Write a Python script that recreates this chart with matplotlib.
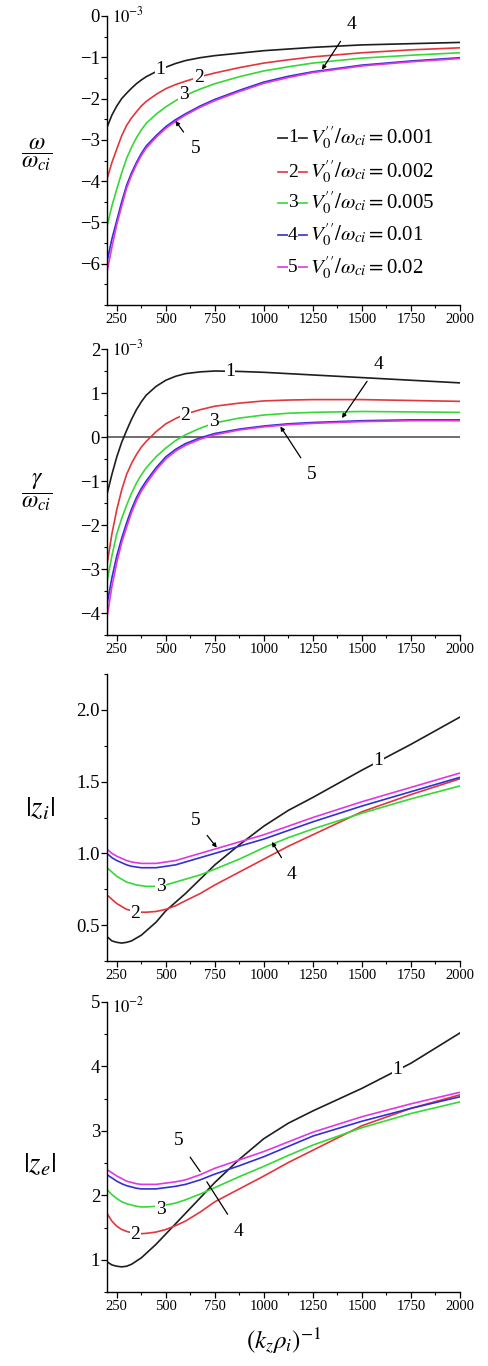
import matplotlib.pyplot as plt
from matplotlib.ticker import MultipleLocator

plt.rcParams['font.family'] = ['Liberation Serif', 'DejaVu Serif']
plt.rcParams['mathtext.fontset'] = 'stix'

# (k_z rho_i)^-1
k = [200, 225, 250, 275, 300, 325, 350, 375, 400, 450, 500, 550, 600, 675, 750, 875,
     1000, 1125, 1250, 1500, 1750, 2000]

shear = ['0.001', '0.002', '0.005', '0.01', '0.02']
colors = ['#1e1e1e', '#e2363c', '#35d835', '#3030d4', '#e236e2']

# omega / omega_ci, units of 1e-3
omega_1 = [-2.7, -2.4, -2.18, -2.0, -1.87, -1.75, -1.64, -1.55, -1.47, -1.35, -1.24, -1.15,
           -1.08, -1.01, -0.96, -0.9, -0.84, -0.8, -0.76, -0.70, -0.67, -0.64]
omega_2 = [-3.95, -3.55, -3.22, -2.9, -2.65, -2.47, -2.32, -2.18, -2.07, -1.9, -1.76, -1.66,
           -1.58, -1.47, -1.38, -1.25, -1.14, -1.06, -0.99, -0.89, -0.82, -0.77]
omega_3 = [-5.1, -4.6, -4.19, -3.8, -3.45, -3.18, -2.95, -2.76, -2.6, -2.38, -2.2, -2.05,
           -1.92, -1.77, -1.64, -1.47, -1.33, -1.23, -1.14, -1.02, -0.95, -0.89]
omega_4 = [-5.95, -5.4, -4.95, -4.5, -4.1, -3.8, -3.55, -3.33, -3.15, -2.9, -2.68, -2.51,
           -2.37, -2.18, -2.02, -1.8, -1.6, -1.46, -1.35, -1.19, -1.09, -1.01]
omega_5 = [-6.2, -5.6, -5.05, -4.6, -4.17, -3.86, -3.6, -3.38, -3.2, -2.94, -2.72, -2.55,
           -2.4, -2.21, -2.05, -1.83, -1.63, -1.49, -1.37, -1.21, -1.11, -1.03]

# gamma / omega_ci, units of 1e-3
gamma_1 = [-1.3, -0.85, -0.45, -0.12, 0.15, 0.4, 0.62, 0.8, 0.95, 1.15, 1.29, 1.38,
           1.44, 1.48, 1.5, 1.49, 1.47, 1.44, 1.41, 1.35, 1.29, 1.23]
gamma_2 = [-2.9, -2.2, -1.65, -1.2, -0.85, -0.6, -0.4, -0.23, -0.1, 0.12, 0.3, 0.42,
           0.52, 0.62, 0.7, 0.77, 0.82, 0.84, 0.85, 0.85, 0.83, 0.81]
gamma_3 = [-3.3, -2.7, -2.2, -1.85, -1.55, -1.28, -1.05, -0.86, -0.7, -0.45, -0.25, -0.08,
           0.05, 0.2, 0.32, 0.43, 0.5, 0.54, 0.56, 0.58, 0.57, 0.56]
gamma_4 = [-3.8, -3.2, -2.7, -2.3, -1.95, -1.64, -1.38, -1.17, -1.0, -0.7, -0.45, -0.28,
           -0.15, -0.02, 0.08, 0.18, 0.25, 0.3, 0.33, 0.37, 0.39, 0.39]
gamma_5 = [-4.1, -3.4, -2.85, -2.4, -2.05, -1.72, -1.45, -1.23, -1.06, -0.75, -0.5, -0.32,
           -0.19, -0.05, 0.05, 0.16, 0.23, 0.28, 0.31, 0.35, 0.37, 0.37]

# |z_i|
zi_1 = [0.42, 0.39, 0.38, 0.375, 0.38, 0.39, 0.41, 0.43, 0.46, 0.52, 0.6, 0.66,
        0.72, 0.82, 0.92, 1.06, 1.19, 1.3, 1.39, 1.58, 1.76, 1.95]
zi_2 = [0.71, 0.68, 0.65, 0.63, 0.61, 0.6, 0.595, 0.59, 0.59, 0.595, 0.61, 0.635,
        0.67, 0.72, 0.78, 0.87, 0.96, 1.05, 1.13, 1.29, 1.41, 1.52]
zi_3 = [0.9, 0.87, 0.84, 0.82, 0.8, 0.79, 0.78, 0.775, 0.77, 0.77, 0.78, 0.8,
        0.82, 0.85, 0.89, 0.96, 1.04, 1.11, 1.17, 1.28, 1.38, 1.47]
zi_4 = [1.0, 0.97, 0.95, 0.935, 0.92, 0.91, 0.905, 0.9, 0.9, 0.9, 0.91, 0.92,
        0.94, 0.97, 1.0, 1.05, 1.1, 1.16, 1.22, 1.33, 1.43, 1.53]
zi_5 = [1.03, 1.0, 0.98, 0.965, 0.95, 0.94, 0.935, 0.93, 0.93, 0.93, 0.94, 0.95,
        0.97, 1.0, 1.03, 1.08, 1.13, 1.19, 1.25, 1.36, 1.46, 1.56]

# |z_e|, units of 1e-2
ze_1 = [0.97, 0.92, 0.9, 0.89, 0.9, 0.93, 0.98, 1.03, 1.1, 1.24, 1.4, 1.56,
        1.72, 1.96, 2.2, 2.56, 2.88, 3.12, 3.31, 3.66, 4.05, 4.52]
ze_2 = [1.72, 1.6, 1.52, 1.47, 1.44, 1.42, 1.41, 1.405, 1.41, 1.43, 1.47, 1.53,
        1.6, 1.74, 1.9, 2.1, 2.3, 2.51, 2.7, 3.08, 3.35, 3.56]
ze_3 = [2.09, 2.01, 1.95, 1.9, 1.87, 1.85, 1.83, 1.82, 1.82, 1.83, 1.85, 1.88,
        1.93, 2.02, 2.12, 2.29, 2.45, 2.62, 2.78, 3.05, 3.27, 3.45]
ze_4 = [2.32, 2.27, 2.22, 2.18, 2.15, 2.13, 2.11, 2.1, 2.1, 2.1, 2.12, 2.14,
        2.17, 2.24, 2.33, 2.46, 2.6, 2.76, 2.92, 3.15, 3.35, 3.53]
ze_5 = [2.4, 2.35, 2.3, 2.26, 2.22, 2.2, 2.18, 2.17, 2.17, 2.17, 2.19, 2.21,
        2.24, 2.32, 2.42, 2.55, 2.68, 2.83, 2.98, 3.22, 3.42, 3.6]

W, H = 489, 1366
fig = plt.figure(figsize=(W / 100, H / 100), dpi=100)


def make_axes(top, bottom, left=107, right=460):
    return fig.add_axes([left / W, 1 - bottom / H, (right - left) / W, (bottom - top) / H])


def style(ax, ylim, major, minor):
    ax.set_xlim(200, 2000)
    ax.set_ylim(*ylim)
    ax.spines['top'].set_visible(False)
    ax.spines['right'].set_visible(False)
    ax.xaxis.set_major_locator(MultipleLocator(250))
    ax.xaxis.set_minor_locator(MultipleLocator(125))
    ax.yaxis.set_major_locator(MultipleLocator(major))
    ax.yaxis.set_minor_locator(MultipleLocator(minor))
    ax.tick_params(which='major', length=4, width=0.9, direction='out')
    ax.tick_params(which='minor', length=2, width=0.8, direction='out')
    ax.tick_params(axis='x', labelsize=10.5, pad=2)
    ax.tick_params(axis='y', labelsize=13.5, pad=1)
    for s in ax.spines.values():
        s.set_linewidth(1.0)


def tag(ax, s, x, y):
    ax.text(x, y, s, fontsize=14, ha='center', va='center', zorder=5,
            bbox=dict(fc='white', ec='none', pad=0.3))


def pointer(ax, s, xy, xytext, head=True):
    ax.annotate(s, xy=xy, xytext=xytext, fontsize=14, ha='center', va='center',
                arrowprops=dict(arrowstyle='-|>' if head else '-', color='black',
                                lw=0.9, mutation_scale=6, shrinkA=5, shrinkB=0))


def draw(ax, series):
    for ys, c in zip(series, colors):
        ax.plot(k, ys, color=c, lw=1.2)


# panel 1: omega
ax1 = make_axes(16, 305)
draw(ax1, [omega_1, omega_2, omega_3, omega_4, omega_5])
style(ax1, (-7, 0), 1, 0.5)
ax1.set_yticks([0, -1, -2, -3, -4, -5, -6])
ax1.set_yticklabels(['0', '−1', '−2', '−3', '−4', '−5', '−6'])
ax1.text(0.015, 1.0, r'$10^{-3}$', transform=ax1.transAxes, fontsize=12, va='center')
ax1.text(-0.2, 0.52, r'$\dfrac{\omega}{\omega_{ci}}$', transform=ax1.transAxes,
         fontsize=17, ha='center', va='center')
tag(ax1, '1', 473, -1.3)
tag(ax1, '2', 667, -1.5)
tag(ax1, '3', 590, -1.9)
pointer(ax1, '4', (1296, -1.3), (1448, -0.2))
pointer(ax1, '5', (549, -2.54), (650, -3.2))
rows = [0.578, 0.460, 0.353, 0.242, 0.131]
for i, (y, c, v) in enumerate(zip(rows, colors, shear)):
    ax1.plot([0.485, 0.566], [y, y], color=c, lw=1.2, transform=ax1.transAxes)
    ax1.text(0.526, y, str(i + 1), transform=ax1.transAxes, fontsize=14, ha='center',
             va='center', bbox=dict(fc='white', ec='none', pad=0.2))
    ax1.text(0.575, y, r"$V_0^{\prime\prime}/\omega_{ci}=$" + v, transform=ax1.transAxes,
             fontsize=15, va='center')

# panel 2: gamma
ax2 = make_axes(349, 635)
ax2.axhline(0, color='#555555', lw=1.2)
draw(ax2, [gamma_1, gamma_2, gamma_3, gamma_4, gamma_5])
style(ax2, (-4.5, 2), 1, 0.5)
ax2.set_yticks([2, 1, 0, -1, -2, -3, -4])
ax2.set_yticklabels(['2', '1', '0', '−1', '−2', '−3', '−4'])
ax2.text(0.015, 1.0, r'$10^{-3}$', transform=ax2.transAxes, fontsize=12, va='center')
ax2.text(-0.2, 0.5, r'$\dfrac{\gamma}{\omega_{ci}}$', transform=ax2.transAxes,
         fontsize=17, ha='center', va='center')
tag(ax2, '1', 828, 1.48)
tag(ax2, '2', 599, 0.5)
tag(ax2, '3', 743, 0.35)
pointer(ax2, '4', (1398, 0.43), (1585, 1.65))
pointer(ax2, '5', (1084, 0.24), (1245, -0.86))

# panel 3: |z_i|
ax3 = make_axes(674, 961)
draw(ax3, [zi_1, zi_2, zi_3, zi_4, zi_5])
style(ax3, (0.25, 2.25), 0.5, 0.25)
ax3.set_yticks([0.5, 1.0, 1.5, 2.0])
ax3.set_yticklabels(['0.5', '1.0', '1.5', '2.0'])
ax3.text(-0.19, 0.53, r'$|z_i|$', transform=ax3.transAxes,
         fontsize=21, ha='center', va='center')
tag(ax3, '1', 1585, 1.65)
tag(ax3, '2', 344, 0.58)
tag(ax3, '3', 474, 0.77)
pointer(ax3, '4', (1041, 1.08), (1143, 0.85))
pointer(ax3, '5', (760, 1.04), (650, 1.23))

# panel 4: |z_e|
ax4 = make_axes(1002, 1292)
draw(ax4, [ze_1, ze_2, ze_3, ze_4, ze_5])
style(ax4, (0.5, 5), 1, 0.5)
ax4.set_yticks([1, 2, 3, 4, 5])
ax4.text(0.015, 0.985, r'$10^{-2}$', transform=ax4.transAxes, fontsize=12, va='center')
ax4.text(-0.19, 0.44, r'$|z_e|$', transform=ax4.transAxes,
         fontsize=21, ha='center', va='center')
tag(ax4, '1', 1680, 3.95)
tag(ax4, '2', 344, 1.39)
tag(ax4, '3', 474, 1.78)
pointer(ax4, '4', (709, 2.21), (871, 1.44), head=False)
pointer(ax4, '5', (675, 2.37), (565, 2.85), head=False)
ax4.set_xlabel(r'$\left(k_z\rho_i\right)^{-1}$', fontsize=18, labelpad=9)

fig.savefig('out.png', dpi=100)
